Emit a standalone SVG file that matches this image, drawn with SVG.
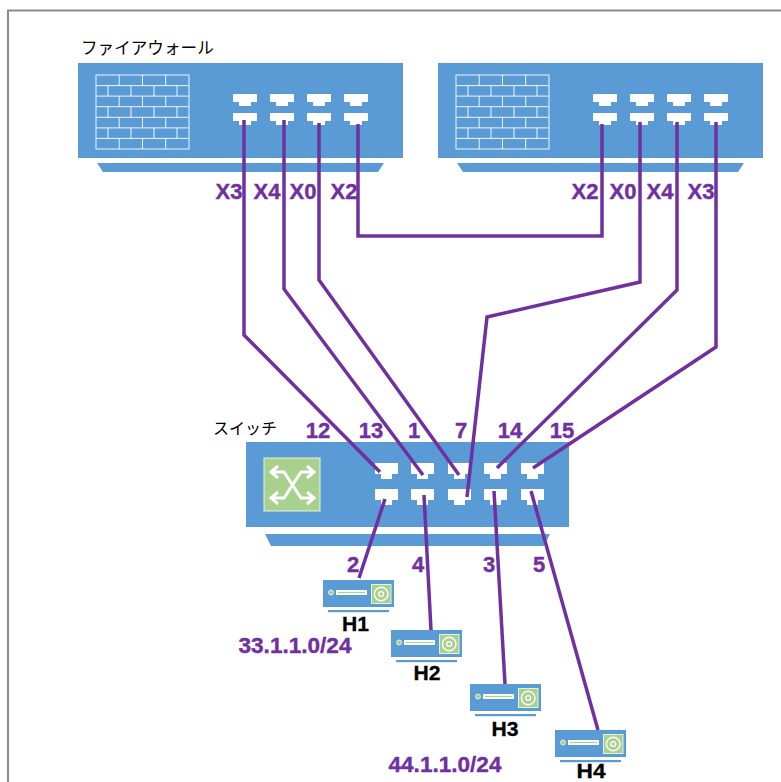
<svg xmlns="http://www.w3.org/2000/svg" width="781" height="782" viewBox="0 0 781 782">
<style>
.b{fill:#5b9bd5}
.g{fill:#a9d18e;stroke:#e8f2e0;stroke-width:1}
.w{fill:#fff}
.wl{fill:none;stroke:#f0f6fc;stroke-width:1}
.hl{fill:none;stroke:#fff;stroke-width:1.400}
.c{fill:none;stroke:#7030a0;stroke-width:3.500}
.l{font-family:"Liberation Sans",Arial,sans-serif;font-weight:700;font-size:22px;fill:#7030a0;stroke:#7030a0;stroke-width:.4;text-anchor:middle}
.h{font-family:"Liberation Sans",Arial,sans-serif;font-weight:700;font-size:20px;fill:#000;stroke:#000;stroke-width:.3;text-anchor:middle}
.j{font-family:"Liberation Sans","Noto Sans CJK JP",sans-serif;font-size:16.6px;fill:#000}
</style>
<defs>
<polygon id="pf" points="0,0 24,0 24,8 18,8 18,12 6,12 6,8 0,8"/>
<polygon id="ps" points="0,0 23,0 23,11 17,11 17,16 6,16 6,11 0,11"/>
<g id="wall">
<rect class="wl" x="0" y="0" width="93" height="74"/>
<path class="wl" d="M0 10.6H93M0 21.1H93M0 31.7H93M0 42.3H93M0 52.9H93M0 63.4H93M23.2 0V10.6M46.500 0V10.6M69.7 0V10.6M12 10.6V21.1M35 10.6V21.1M58 10.6V21.1M81 10.6V21.1M23.2 21.1V31.7M46.500 21.1V31.7M69.7 21.1V31.7M12 31.7V42.3M35 31.7V42.3M58 31.7V42.3M81 31.7V42.3M23.2 42.3V52.9M46.500 42.3V52.9M69.7 42.3V52.9M12 52.9V63.4M35 52.9V63.4M58 52.9V63.4M81 52.9V63.4M23.2 63.4V74M46.500 63.4V74M69.7 63.4V74"/>
</g>
<g id="fw">
<rect class="b" x="0" y="0" width="325" height="95"/>
<polygon class="b" points="19,100 306,100 300,109 25,109"/>
<use href="#wall" x="18" y="12"/>
<g class="w">
<use href="#pf" x="155" y="31"/><use href="#pf" x="192" y="31"/><use href="#pf" x="229" y="31"/><use href="#pf" x="266" y="31"/>
<use href="#pf" x="155" y="50"/><use href="#pf" x="192" y="50"/><use href="#pf" x="229" y="50"/><use href="#pf" x="266" y="50"/>
</g>
</g>
<g id="host">
<rect class="b" x="0" y="0" width="71" height="27"/>
<rect class="b" x="5" y="30" width="61" height="2.200"/>
<circle class="g" cx="8" cy="12.500" r="2.500"/>
<rect class="w" x="13" y="10" width="31" height="5"/>
<rect x="15" y="11.900" width="27" height="1.200" fill="#a9d18e"/>
<rect class="g" x="48.500" y="4.500" width="19.500" height="19"/>
<circle class="hl" cx="58.200" cy="14" r="6.800"/>
<circle class="hl" cx="58.200" cy="14" r="2.400"/>
</g>
</defs>
<rect width="781" height="782" fill="#fff"/>
<path d="M8 782V10.500H781" fill="none" stroke="#8a8a8a" stroke-width="2"/>
<g id="firewall-1"><use href="#fw" x="78" y="63"/><text class="j" x="81" y="54">ファイアウォール</text></g>
<g id="firewall-2"><use href="#fw" x="438" y="63"/></g>
<g id="switch">
<rect class="b" x="246" y="442" width="323" height="85"/>
<polygon class="b" points="265,534 550,534 544,546 271,546"/>
<rect class="g" x="264" y="458" width="56" height="53"/>
<path d="M271 472H284L301 498H314M271 498H284L301 472H314" fill="none" stroke="#fff" stroke-width="3"/>
<path d="M278 466L271 472L278 478M307 466L314 472L307 478M278 492L271 498L278 504M307 492L314 498L307 504" fill="none" stroke="#fff" stroke-width="3"/>
<g class="w">
<use href="#ps" x="375" y="463"/><use href="#ps" x="411" y="463"/><use href="#ps" x="448" y="463"/><use href="#ps" x="484" y="463"/><use href="#ps" x="521" y="463"/>
<use href="#ps" x="375" y="489"/><use href="#ps" x="411" y="489"/><use href="#ps" x="448" y="489"/><use href="#ps" x="484" y="489"/><use href="#ps" x="521" y="489"/>
</g>
<text class="j" x="213" y="434" style="font-size:16px">スイッチ</text>
</g>
<g id="H1"><use href="#host" x="323" y="580"/><text class="h" x="355.500" y="631" textLength="27" lengthAdjust="spacingAndGlyphs">H1</text></g>
<g id="H2"><use href="#host" x="391" y="630"/><text class="h" x="427" y="680" textLength="27" lengthAdjust="spacingAndGlyphs">H2</text></g>
<g id="H3"><use href="#host" x="470" y="684"/><text class="h" x="505" y="736" textLength="27" lengthAdjust="spacingAndGlyphs">H3</text></g>
<g id="H4"><use href="#host" x="555" y="730"/><text class="h" x="591" y="778" textLength="29" lengthAdjust="spacingAndGlyphs">H4</text></g>
<g id="connectors">
<polyline class="c" points="244,120 244,335 380,472"/>
<polyline class="c" points="284,120 284,289 423,475"/>
<polyline class="c" points="319,123 319,280 459,475"/>
<polyline class="c" points="358,124 358,236 602,236 602,124"/>
<polyline class="c" points="640,122 640,282 487,317 467,497"/>
<polyline class="c" points="677,122 677,290 497,468"/>
<polyline class="c" points="716,122 716,347 533,468"/>
<line class="c" x1="385" y1="499" x2="359" y2="578"/>
<line class="c" x1="424" y1="495" x2="431" y2="630"/>
<line class="c" x1="494" y1="491" x2="505" y2="684"/>
<line class="c" x1="531" y1="491" x2="598" y2="730"/>
</g>
<g id="labels">
<text class="l" x="229" y="199">X3</text><text class="l" x="267" y="199">X4</text><text class="l" x="303" y="199">X0</text><text class="l" x="344" y="199">X2</text>
<text class="l" x="585" y="199">X2</text><text class="l" x="623" y="199">X0</text><text class="l" x="660" y="199">X4</text><text class="l" x="701" y="199">X3</text>
<text class="l" x="318" y="438">12</text><text class="l" x="371" y="438">13</text><text class="l" x="414" y="438">1</text><text class="l" x="461" y="438">7</text><text class="l" x="510" y="438">14</text><text class="l" x="562" y="438">15</text>
<text class="l" x="353" y="572">2</text><text class="l" x="418" y="572">4</text><text class="l" x="489" y="572">3</text><text class="l" x="539" y="572">5</text>
<text class="l" x="295" y="653" textLength="113" lengthAdjust="spacingAndGlyphs">33.1.1.0/24</text>
<text class="l" x="445" y="772" textLength="113" lengthAdjust="spacingAndGlyphs">44.1.1.0/24</text>
</g>
</svg>
